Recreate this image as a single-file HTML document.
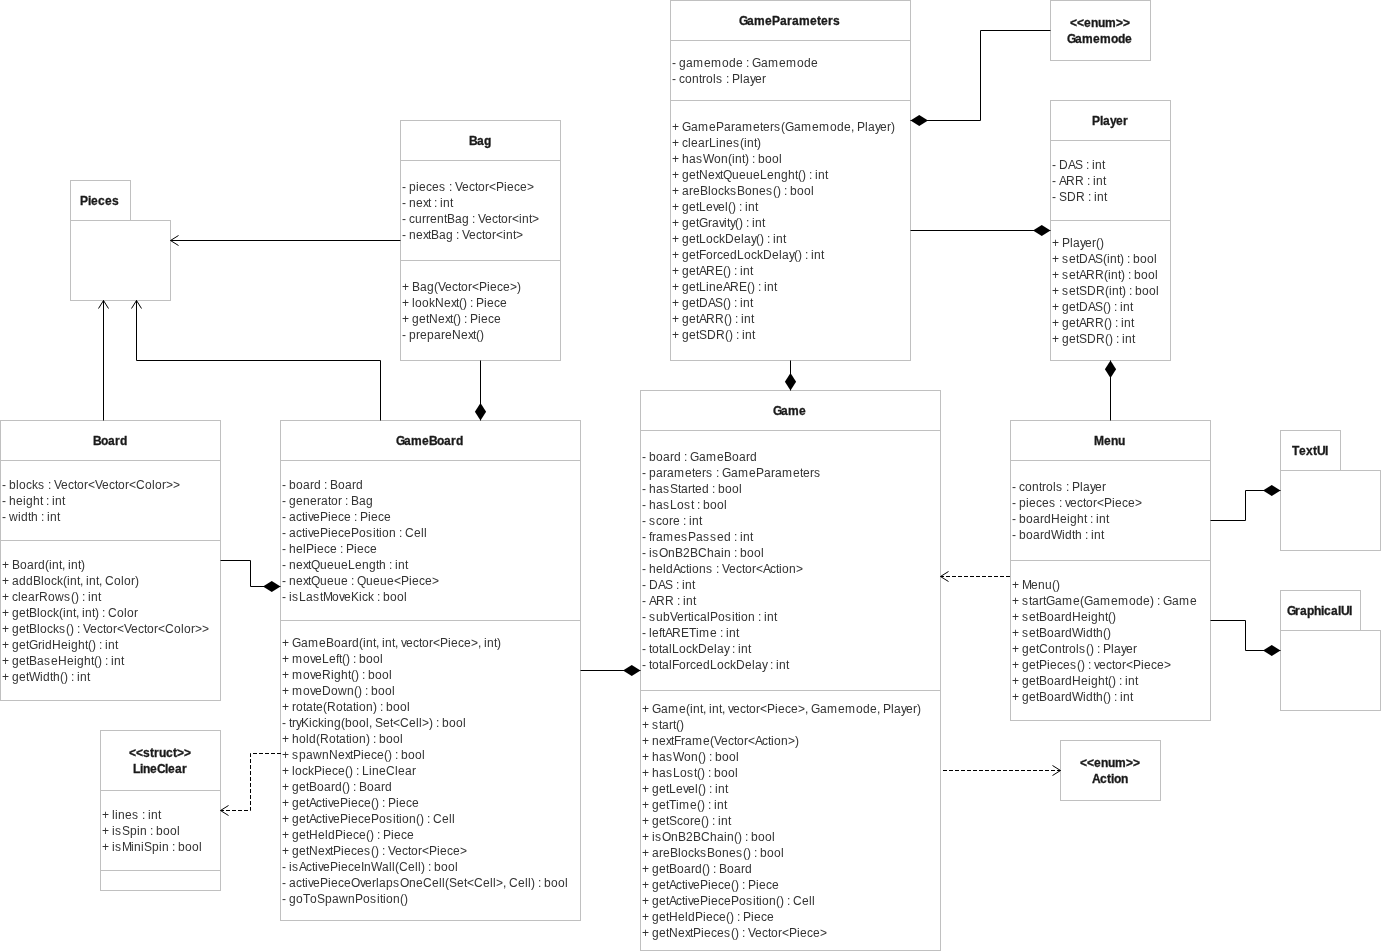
<!DOCTYPE html>
<html><head><meta charset="utf-8"><title>UML</title>
<style>
html,body{margin:0;padding:0;background:#fff;}
body{width:1381px;height:951px;overflow:hidden;}
svg{display:block;will-change:transform;}
.sh rect,.sh path{fill:#fff;stroke:#c0c0c0;stroke-width:1;}
.sh path{fill:none;}
.ed path{fill:none;stroke:#000;stroke-width:1;}
.ed path.d{stroke-dasharray:4 2;}
.ed path.f{fill:#000;stroke:none;}
text{font-family:"Liberation Sans",sans-serif;font-size:12px;fill:#333;font-kerning:none;white-space:pre;}
text.b{font-weight:bold;fill:#1a1a1a;stroke:#1a1a1a;stroke-width:0.3px;}
</style></head>
<body><svg width="1381" height="951" viewBox="0 0 1381 951">
<rect x="0" y="0" width="1381" height="951" fill="#fff"/>
<g class="sh">
<rect x="670.5" y="0.5" width="240" height="360"/>
<path d="M670.5 40.5H910.5"/>
<path d="M670.5 100.5H910.5"/>
<rect x="1050.5" y="100.5" width="120" height="260"/>
<path d="M1050.5 140.5H1170.5"/>
<path d="M1050.5 220.5H1170.5"/>
<rect x="400.5" y="120.5" width="160" height="240"/>
<path d="M400.5 160.5H560.5"/>
<path d="M400.5 260.5H560.5"/>
<rect x="0.5" y="420.5" width="220" height="280"/>
<path d="M0.5 460.5H220.5"/>
<path d="M0.5 540.5H220.5"/>
<rect x="280.5" y="420.5" width="300" height="500"/>
<path d="M280.5 460.5H580.5"/>
<path d="M280.5 620.5H580.5"/>
<rect x="100.5" y="730.5" width="120" height="160"/>
<path d="M100.5 790.5H220.5"/>
<path d="M100.5 870.5H220.5"/>
<rect x="640.5" y="390.5" width="300" height="560"/>
<path d="M640.5 430.5H940.5"/>
<path d="M640.5 690.5H940.5"/>
<rect x="1010.5" y="420.5" width="200" height="300"/>
<path d="M1010.5 460.5H1210.5"/>
<path d="M1010.5 560.5H1210.5"/>
<rect x="1050.5" y="0.5" width="100" height="60"/>
<rect x="1060.5" y="740.5" width="100" height="60"/>
<rect x="70.5" y="180.5" width="60" height="40"/>
<rect x="70.5" y="220.5" width="100" height="80"/>
<rect x="1280.5" y="430.5" width="60" height="40"/>
<rect x="1280.5" y="470.5" width="100" height="80"/>
<rect x="1280.5" y="590.5" width="80" height="40"/>
<rect x="1280.5" y="630.5" width="100" height="80"/>
</g>
<g class="ed">
<path d="M400.5 240.5 L170.5 240.5"/>
<path d="M178.5 235.5 L170.5 240.5 L178.5 245.5"/>
<path d="M103.5 420.5 L103.5 300.5"/>
<path d="M108.5 308.5 L103.5 300.5 L98.5 308.5"/>
<path d="M380.5 420.5 L380.5 360.5 L136.5 360.5 L136.5 300.5"/>
<path d="M141.5 308.5 L136.5 300.5 L131.5 308.5"/>
<path d="M480.5 360.5 L480.5 420.5"/>
<path class="f" d="M480.5 420.5 L474.9 411.75 L480.5 403.0 L486.1 411.75 Z"/>
<path d="M220.5 560.5 L250.5 560.5 L250.5 586.5 L280.5 586.5"/>
<path class="f" d="M280.5 586.5 L271.75 592.1 L263.0 586.5 L271.75 580.9 Z"/>
<path d="M580.5 670.5 L640.5 670.5"/>
<path class="f" d="M640.5 670.5 L631.75 676.1 L623.0 670.5 L631.75 664.9 Z"/>
<path d="M790.5 360.5 L790.5 390.5"/>
<path class="f" d="M790.5 390.5 L784.9 381.75 L790.5 373.0 L796.1 381.75 Z"/>
<path d="M1050.5 30.5 L980.5 30.5 L980.5 120.5 L910.5 120.5"/>
<path class="f" d="M910.5 120.5 L919.25 114.9 L928.0 120.5 L919.25 126.1 Z"/>
<path d="M910.5 230.5 L1050.5 230.5"/>
<path class="f" d="M1050.5 230.5 L1041.75 236.1 L1033.0 230.5 L1041.75 224.9 Z"/>
<path d="M1110.5 420.5 L1110.5 360.5"/>
<path class="f" d="M1110.5 360.5 L1116.1 369.25 L1110.5 378.0 L1104.9 369.25 Z"/>
<path class="d" d="M1010 576.5 L940.5 576.5"/>
<path d="M948.5 571.5 L940.5 576.5 L948.5 581.5"/>
<path d="M1210.5 520.5 L1245.5 520.5 L1245.5 490.5 L1280.5 490.5"/>
<path class="f" d="M1280.5 490.5 L1271.75 496.1 L1263.0 490.5 L1271.75 484.9 Z"/>
<path d="M1210.5 620.5 L1245.5 620.5 L1245.5 650.5 L1280.5 650.5"/>
<path class="f" d="M1280.5 650.5 L1271.75 656.1 L1263.0 650.5 L1271.75 644.9 Z"/>
<path class="d" d="M943 770.5 L1060.5 770.5"/>
<path d="M1052.5 775.5 L1060.5 770.5 L1052.5 765.5"/>
<path class="d" d="M281 753.5 L250.5 753.5 L250.5 810.5 L220.5 810.5"/>
<path d="M228.5 805.5 L220.5 810.5 L228.5 815.5"/>
</g>
<g class="tx">
<text class="b" x="739 747 754 765 772 780 787 792 799 810 817 821 828 833" y="25.0">GameParameters</text>
<text x="672 676 679 686 693 704 711 722 729 736 743 746 749 752 761 768 779 786 797 804 811" y="67.0">- gamemode : Gamemode</text>
<text x="672 676 679 685 692 699 702 706 713 716 723 726 729 732 740 743 750 755 762" y="83.0">- controls : Player</text>
<text x="672 679 682 691 698 709 716 724 731 735 742 753 760 763 770 774 781 785 794 801 812 819 830 837 844 851 854 857 865 868 875 880 887 891" y="131.0">+ GameParameters(Gamemode, Player)</text>
<text x="672 679 682 688 691 698 705 709 716 719 726 733 740 744 747 754 757" y="147.0">+ clearLines(int)</text>
<text x="672 679 682 689 696 703 714 721 728 732 735 742 745 749 752 755 758 765 772 779" y="163.0">+ hasWon(int) : bool</text>
<text x="672 679 682 689 696 699 708 715 720 723 732 739 746 753 760 767 774 781 788 795 798 802 806 809 812 815 818 825" y="179.0">+ getNextQueueLenght() : int</text>
<text x="672 679 682 689 693 700 708 711 718 724 730 737 745 752 759 766 773 777 781 784 787 790 797 804 811" y="195.0">+ areBlocksBones() : bool</text>
<text x="672 679 682 689 696 699 706 713 718 725 728 732 736 739 742 745 748 755" y="211.0">+ getLevel() : int</text>
<text x="672 679 682 689 696 699 708 712 719 724 727 730 735 739 743 746 749 752 755 762" y="227.0">+ getGravity() : int</text>
<text x="672 679 682 689 696 699 706 713 719 725 734 741 744 751 756 760 764 767 770 773 776 783" y="243.0">+ getLockDelay() : int</text>
<text x="672 679 682 689 696 699 706 713 717 723 730 737 744 751 757 763 772 779 782 789 794 798 802 805 808 811 814 821" y="259.0">+ getForcedLockDelay() : int</text>
<text x="672 679 682 689 696 699 706 715 723 727 731 734 737 740 743 750" y="275.0">+ getARE() : int</text>
<text x="672 679 682 689 696 699 706 709 716 723 730 739 747 751 755 758 761 764 767 774" y="291.0">+ getLineARE() : int</text>
<text x="672 679 682 689 696 699 708 715 723 727 731 734 737 740 743 750" y="307.0">+ getDAS() : int</text>
<text x="672 679 682 689 696 699 706 715 724 728 732 735 738 741 744 751" y="323.0">+ getARR() : int</text>
<text x="672 679 682 689 696 699 707 716 725 729 733 736 739 742 745 752" y="339.0">+ getSDR() : int</text>
<text class="b" x="1092 1100 1103 1110 1116 1123" y="125.0">Player</text>
<text x="1052 1056 1059 1068 1075 1083 1086 1089 1092 1095 1102" y="169.0">- DAS : int</text>
<text x="1052 1056 1059 1066 1075 1084 1087 1090 1093 1096 1103" y="185.0">- ARR : int</text>
<text x="1052 1056 1059 1067 1076 1085 1088 1091 1094 1097 1104" y="201.0">- SDR : int</text>
<text x="1052 1059 1062 1070 1073 1080 1085 1092 1096 1100" y="247.0">+ Player()</text>
<text x="1052 1059 1062 1069 1076 1079 1088 1095 1103 1107 1110 1117 1120 1124 1127 1130 1133 1140 1147 1154" y="263.0">+ setDAS(int) : bool</text>
<text x="1052 1059 1062 1069 1076 1079 1086 1095 1104 1108 1111 1118 1121 1125 1128 1131 1134 1141 1148 1155" y="279.0">+ setARR(int) : bool</text>
<text x="1052 1059 1062 1069 1076 1079 1087 1096 1105 1109 1112 1119 1122 1126 1129 1132 1135 1142 1149 1156" y="295.0">+ setSDR(int) : bool</text>
<text x="1052 1059 1062 1069 1076 1079 1088 1095 1103 1107 1111 1114 1117 1120 1123 1130" y="311.0">+ getDAS() : int</text>
<text x="1052 1059 1062 1069 1076 1079 1086 1095 1104 1108 1112 1115 1118 1121 1124 1131" y="327.0">+ getARR() : int</text>
<text x="1052 1059 1062 1069 1076 1079 1087 1096 1105 1109 1113 1116 1119 1122 1125 1132" y="343.0">+ getSDR() : int</text>
<text class="b" x="469 477 484" y="145.0">Bag</text>
<text x="402 406 409 416 419 426 432 439 446 449 452 455 462 469 475 478 485 489 496 504 507 514 520 527" y="191.0">- pieces : Vector&lt;Piece&gt;</text>
<text x="402 406 409 416 423 428 431 434 437 440 443 450" y="207.0">- next : int</text>
<text x="402 406 409 415 422 426 430 437 444 447 455 462 469 472 475 478 485 492 498 501 508 512 519 522 529 532" y="223.0">- currentBag : Vector&lt;int&gt;</text>
<text x="402 406 409 416 423 428 431 439 446 453 456 459 462 469 476 482 485 492 496 503 506 513 516" y="239.0">- nextBag : Vector&lt;int&gt;</text>
<text x="402 409 412 420 427 434 438 445 452 458 461 468 472 479 487 490 497 503 510 517" y="291.0">+ Bag(Vector&lt;Piece&gt;)</text>
<text x="402 409 412 415 422 429 435 444 451 456 459 463 467 470 473 476 484 487 494 500" y="307.0">+ lookNext() : Piece</text>
<text x="402 409 412 419 426 429 438 445 450 453 457 461 464 467 470 478 481 488 494" y="323.0">+ getNext() : Piece</text>
<text x="402 406 409 416 420 427 434 441 445 452 461 468 473 476 480" y="339.0">- prepareNext()</text>
<text class="b" x="93 101 108 115 120" y="445.0">Board</text>
<text x="2 6 9 16 19 26 32 38 45 48 51 54 61 68 74 77 84 88 95 102 109 115 118 125 129 136 145 152 155 162 166 173" y="489.0">- blocks : Vector&lt;Vector&lt;Color&gt;&gt;</text>
<text x="2 6 9 16 23 26 33 40 43 46 49 52 55 62" y="505.0">- height : int</text>
<text x="2 6 9 18 21 28 31 38 41 44 47 50 57" y="521.0">- width : int</text>
<text x="2 9 12 20 27 34 38 45 49 52 59 62 65 68 71 78 81" y="569.0">+ Board(int, int)</text>
<text x="2 9 12 19 26 33 41 44 51 57 63 67 70 77 80 83 86 89 96 99 102 105 114 121 124 131 135" y="585.0">+ addBlock(int, int, Color)</text>
<text x="2 9 12 18 21 28 35 39 48 55 64 71 75 79 82 85 88 91 98" y="601.0">+ clearRows() : int</text>
<text x="2 9 12 19 26 29 37 40 47 53 59 63 66 73 76 79 82 85 92 95 99 102 105 108 117 124 127 134" y="617.0">+ getBlock(int, int) : Color</text>
<text x="2 9 12 19 26 29 37 40 47 53 59 66 70 74 77 80 83 90 97 103 106 113 117 124 131 138 144 147 154 158 165 174 181 184 191 195 202" y="633.0">+ getBlocks() : Vector&lt;Vector&lt;Color&gt;&gt;</text>
<text x="2 9 12 19 26 29 38 42 45 52 61 68 71 78 85 88 92 96 99 102 105 108 115" y="649.0">+ getGridHeight() : int</text>
<text x="2 9 12 19 26 29 37 44 51 58 67 74 77 84 91 94 98 102 105 108 111 114 121" y="665.0">+ getBaseHeight() : int</text>
<text x="2 9 12 19 26 29 40 43 50 53 60 64 68 71 74 77 80 87" y="681.0">+ getWidth() : int</text>
<text class="b" x="396 404 411 422 429 437 444 451 456" y="445.0">GameBoard</text>
<text x="282 286 289 296 303 310 314 321 324 327 330 338 345 352 356" y="489.0">- board : Board</text>
<text x="282 286 289 296 303 310 317 321 328 331 338 342 345 348 351 359 366" y="505.0">- generator : Bag</text>
<text x="282 286 289 296 302 305 308 313 320 328 331 338 344 351 354 357 360 368 371 378 384" y="521.0">- activePiece : Piece</text>
<text x="282 286 289 296 302 305 308 313 320 328 331 338 344 351 359 366 373 376 379 382 389 396 399 402 405 414 421 424" y="537.0">- activePiecePosition : Cell</text>
<text x="282 286 289 296 303 306 314 317 324 330 337 340 343 346 354 357 364 370" y="553.0">- helPiece : Piece</text>
<text x="282 286 289 296 303 308 311 320 327 334 341 348 355 362 369 376 379 386 389 392 395 398 405" y="569.0">- nextQueueLength : int</text>
<text x="282 286 289 296 303 308 311 320 327 334 341 348 351 354 357 366 373 380 387 394 401 409 412 419 425 432" y="585.0">- nextQueue : Queue&lt;Piece&gt;</text>
<text x="282 286 289 292 299 306 313 320 323 332 339 344 351 359 362 368 374 377 380 383 390 397 404" y="601.0">- isLastMoveKick : bool</text>
<text x="282 289 292 301 308 319 326 334 341 348 352 359 363 366 373 376 379 382 385 392 395 398 401 406 413 419 422 429 433 440 448 451 458 464 471 478 481 484 487 494 497" y="647.0">+ GameBoard(int, int, vector&lt;Piece&gt;, int)</text>
<text x="282 289 292 303 310 315 322 329 336 339 342 346 350 353 356 359 366 373 380" y="663.0">+ moveLeft() : bool</text>
<text x="282 289 292 303 310 315 322 331 334 341 348 351 355 359 362 365 368 375 382 389" y="679.0">+ moveRight() : bool</text>
<text x="282 289 292 303 310 315 322 331 338 347 354 358 362 365 368 371 378 385 392" y="695.0">+ moveDown() : bool</text>
<text x="282 289 292 296 303 306 313 316 323 327 336 343 346 353 356 359 366 373 377 380 383 386 393 400 407" y="711.0">+ rotate(Rotation) : bool</text>
<text x="282 286 289 292 296 301 309 312 318 324 327 334 341 345 352 359 366 369 372 375 383 390 393 400 409 416 419 422 429 433 436 439 442 449 456 463" y="727.0">- tryKicking(bool, Set&lt;Cell&gt;) : bool</text>
<text x="282 289 292 299 306 309 316 320 329 336 339 346 349 352 359 366 370 373 376 379 386 393 400" y="743.0">+ hold(Rotation) : bool</text>
<text x="282 289 292 299 306 313 322 329 338 345 350 353 361 364 371 377 384 388 392 395 398 401 408 415 422" y="759.0">+ spawnNextPiece() : bool</text>
<text x="282 289 292 295 302 308 314 322 325 332 338 345 349 353 356 359 362 369 372 379 386 395 398 405 412" y="775.0">+ lockPiece() : LineClear</text>
<text x="282 289 292 299 306 309 317 324 331 335 342 346 350 353 356 359 367 374 381 385" y="791.0">+ getBoard() : Board</text>
<text x="282 289 292 299 306 309 316 322 325 328 333 340 348 351 358 364 371 375 379 382 385 388 396 399 406 412" y="807.0">+ getActivePiece() : Piece</text>
<text x="282 289 292 299 306 309 316 322 325 328 333 340 348 351 358 364 371 379 386 393 396 399 402 409 416 420 424 427 430 433 442 449 452" y="823.0">+ getActivePiecePosition() : Cell</text>
<text x="282 289 292 299 306 309 318 325 328 335 343 346 353 359 366 370 374 377 380 383 391 394 401 407" y="839.0">+ getHeldPiece() : Piece</text>
<text x="282 289 292 299 306 309 318 325 330 333 341 344 351 357 364 371 375 379 382 385 388 395 402 408 411 418 422 429 437 440 447 453 460" y="855.0">+ getNextPieces() : Vector&lt;Piece&gt;</text>
<text x="282 286 289 292 299 306 312 315 318 323 330 338 341 348 354 361 364 371 382 389 392 395 399 408 415 418 421 425 428 431 434 441 448 455" y="871.0">- isActivePieceInWall(Cell) : bool</text>
<text x="282 286 289 296 302 305 308 313 320 328 331 338 344 351 360 365 372 376 379 386 393 400 409 416 423 432 439 442 445 449 457 464 467 474 483 490 493 496 503 506 509 518 525 528 531 535 538 541 544 551 558 565" y="887.0">- activePieceOverlapsOneCell(Set&lt;Cell&gt;, Cell) : bool</text>
<text x="282 286 289 296 303 310 317 325 332 339 348 355 363 370 377 380 383 386 393 400 404" y="903.0">- goToSpawnPosition()</text>
<text class="b" x="129 136 143 150 154 159 166 173 177 184" y="757.0">&lt;&lt;struct&gt;&gt;</text>
<text class="b" x="133 140 143 150 157 165 168 175 182" y="773.0">LineClear</text>
<text x="102 109 112 115 118 125 132 139 142 145 148 151 158" y="819.0">+ lines : int</text>
<text x="102 109 112 115 122 130 137 140 147 150 153 156 163 170 177" y="835.0">+ isSpin : bool</text>
<text x="102 109 112 115 122 131 134 141 144 152 159 162 169 172 175 178 185 192 199" y="851.0">+ isMiniSpin : bool</text>
<text class="b" x="773 781 788 799" y="415.0">Game</text>
<text x="642 646 649 656 663 670 674 681 684 687 690 699 706 717 724 732 739 746 750" y="461.0">- board : GameBoard</text>
<text x="642 646 649 656 663 667 674 685 692 695 702 706 713 716 719 722 731 738 749 756 764 771 775 782 793 800 803 810 814" y="477.0">- parameters : GameParameters</text>
<text x="642 646 649 656 663 670 678 681 688 692 695 702 709 712 715 718 725 732 739" y="493.0">- hasStarted : bool</text>
<text x="642 646 649 656 663 670 677 684 691 694 697 700 703 710 717 724" y="509.0">- hasLost : bool</text>
<text x="642 646 649 656 662 669 673 680 683 686 689 692 699" y="525.0">- score : int</text>
<text x="642 646 649 652 656 663 674 681 688 696 703 710 717 724 731 734 737 740 743 750" y="541.0">- framesPassed : int</text>
<text x="642 646 649 652 659 668 675 683 690 698 707 714 721 724 731 734 737 740 747 754 761" y="557.0">- isOnB2BChain : bool</text>
<text x="642 646 649 656 663 666 673 680 686 689 692 699 706 713 716 719 722 729 736 742 745 752 756 763 770 776 779 782 789 796" y="573.0">- heldActions : Vector&lt;Action&gt;</text>
<text x="642 646 649 658 665 673 676 679 682 685 692" y="589.0">- DAS : int</text>
<text x="642 646 649 656 665 674 677 680 683 686 693" y="605.0">- ARR : int</text>
<text x="642 646 649 656 663 670 677 684 688 691 694 700 707 710 718 725 732 735 738 741 748 755 758 761 764 767 774" y="621.0">- subVerticalPosition : int</text>
<text x="642 646 649 652 659 662 665 672 681 689 696 699 710 717 720 723 726 729 736" y="637.0">- leftARETime : int</text>
<text x="642 646 649 652 659 662 669 672 679 686 692 698 707 714 717 724 729 732 735 738 741 748" y="653.0">- totalLockDelay : int</text>
<text x="642 646 649 652 659 662 669 672 679 686 690 696 703 710 717 724 730 736 745 752 755 762 767 770 773 776 779 786" y="669.0">- totalForcedLockDelay : int</text>
<text x="642 649 652 661 668 679 686 690 693 700 703 706 709 712 719 722 725 728 733 740 746 749 756 760 767 775 778 785 791 798 805 808 811 820 827 838 845 856 863 870 877 880 883 891 894 901 906 913 917" y="713.0">+ Game(int, int, vector&lt;Piece&gt;, Gamemode, Player)</text>
<text x="642 649 652 659 662 669 673 676 680" y="729.0">+ start()</text>
<text x="642 649 652 659 666 671 674 681 685 692 703 710 714 721 728 734 737 744 748 755 762 768 771 774 781 788 795" y="745.0">+ nextFrame(Vector&lt;Action&gt;)</text>
<text x="642 649 652 659 666 673 684 691 698 702 706 709 712 715 722 729 736" y="761.0">+ hasWon() : bool</text>
<text x="642 649 652 659 666 673 680 687 694 697 701 705 708 711 714 721 728 735" y="777.0">+ hasLost() : bool</text>
<text x="642 649 652 659 666 669 676 683 688 695 698 702 706 709 712 715 718 725" y="793.0">+ getLevel() : int</text>
<text x="642 649 652 659 666 669 676 679 690 697 701 705 708 711 714 717 724" y="809.0">+ getTime() : int</text>
<text x="642 649 652 659 666 669 677 683 690 694 701 705 709 712 715 718 721 728" y="825.0">+ getScore() : int</text>
<text x="642 649 652 655 662 671 678 686 693 701 710 717 724 727 734 738 742 745 748 751 758 765 772" y="841.0">+ isOnB2BChain() : bool</text>
<text x="642 649 652 659 663 670 678 681 688 694 700 707 715 722 729 736 743 747 751 754 757 760 767 774 781" y="857.0">+ areBlocksBones() : bool</text>
<text x="642 649 652 659 666 669 677 684 691 695 702 706 710 713 716 719 727 734 741 745" y="873.0">+ getBoard() : Board</text>
<text x="642 649 652 659 666 669 676 682 685 688 693 700 708 711 718 724 731 735 739 742 745 748 756 759 766 772" y="889.0">+ getActivePiece() : Piece</text>
<text x="642 649 652 659 666 669 676 682 685 688 693 700 708 711 718 724 731 739 746 753 756 759 762 769 776 780 784 787 790 793 802 809 812" y="905.0">+ getActivePiecePosition() : Cell</text>
<text x="642 649 652 659 666 669 678 685 688 695 703 706 713 719 726 730 734 737 740 743 751 754 761 767" y="921.0">+ getHeldPiece() : Piece</text>
<text x="642 649 652 659 666 669 678 685 690 693 701 704 711 717 724 731 735 739 742 745 748 755 762 768 771 778 782 789 797 800 807 813 820" y="937.0">+ getNextPieces() : Vector&lt;Piece&gt;</text>
<text class="b" x="1094 1104 1111 1118" y="445.0">Menu</text>
<text x="1012 1016 1019 1025 1032 1039 1042 1046 1053 1056 1063 1066 1069 1072 1080 1083 1090 1095 1102" y="491.0">- controls : Player</text>
<text x="1012 1016 1019 1026 1029 1036 1042 1049 1056 1059 1062 1065 1070 1077 1083 1086 1093 1097 1104 1112 1115 1122 1128 1135" y="507.0">- pieces : vector&lt;Piece&gt;</text>
<text x="1012 1016 1019 1026 1033 1040 1044 1051 1060 1067 1070 1077 1084 1087 1090 1093 1096 1099 1106" y="523.0">- boardHeight : int</text>
<text x="1012 1016 1019 1026 1033 1040 1044 1051 1062 1065 1072 1075 1082 1085 1088 1091 1094 1101" y="539.0">- boardWidth : int</text>
<text x="1012 1019 1022 1031 1038 1045 1052 1056" y="589.0">+ Menu()</text>
<text x="1012 1019 1022 1029 1032 1039 1043 1046 1055 1062 1073 1080 1084 1093 1100 1111 1118 1129 1136 1143 1150 1154 1157 1160 1163 1172 1179 1190" y="605.0">+ startGame(Gamemode) : Game</text>
<text x="1012 1019 1022 1029 1036 1039 1047 1054 1061 1065 1072 1081 1088 1091 1098 1105 1108 1112" y="621.0">+ setBoardHeight()</text>
<text x="1012 1019 1022 1029 1036 1039 1047 1054 1061 1065 1072 1083 1086 1093 1096 1103 1107" y="637.0">+ setBoardWidth()</text>
<text x="1012 1019 1022 1029 1036 1039 1048 1055 1062 1065 1069 1076 1079 1086 1090 1094 1097 1100 1103 1111 1114 1121 1126 1133" y="653.0">+ getControls() : Player</text>
<text x="1012 1019 1022 1029 1036 1039 1047 1050 1057 1063 1070 1077 1081 1085 1088 1091 1094 1099 1106 1112 1115 1122 1126 1133 1141 1144 1151 1157 1164" y="669.0">+ getPieces() : vector&lt;Piece&gt;</text>
<text x="1012 1019 1022 1029 1036 1039 1047 1054 1061 1065 1072 1081 1088 1091 1098 1105 1108 1112 1116 1119 1122 1125 1128 1135" y="685.0">+ getBoardHeight() : int</text>
<text x="1012 1019 1022 1029 1036 1039 1047 1054 1061 1065 1072 1083 1086 1093 1096 1103 1107 1111 1114 1117 1120 1123 1130" y="701.0">+ getBoardWidth() : int</text>
<text class="b" x="1070 1077 1084 1091 1098 1105 1116 1123" y="27.0">&lt;&lt;enum&gt;&gt;</text>
<text class="b" x="1067 1075 1082 1093 1100 1111 1118 1125" y="43.0">Gamemode</text>
<text class="b" x="1080 1087 1094 1101 1108 1115 1126 1133" y="767.0">&lt;&lt;enum&gt;&gt;</text>
<text class="b" x="1092 1100 1107 1111 1114 1121" y="783.0">Action</text>
<text class="b" x="80 88 91 98 105 112" y="205.0">Pieces</text>
<text class="b" x="1292 1299 1306 1313 1317 1325" y="455.0">TextUI</text>
<text class="b" x="1287 1295 1300 1307 1314 1321 1324 1331 1338 1341 1349" y="615.0">GraphicalUI</text>
</g>
</svg></body></html>
